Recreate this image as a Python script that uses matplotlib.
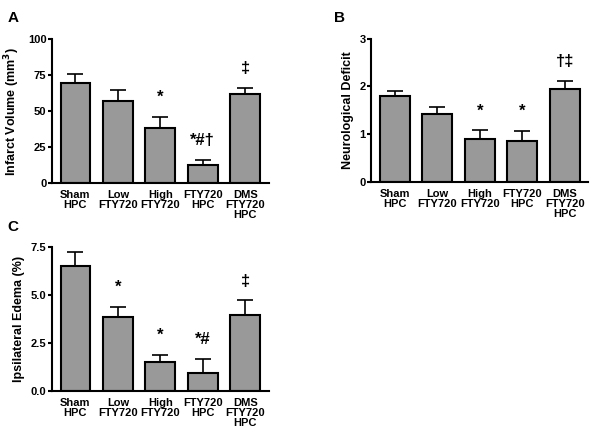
import matplotlib
matplotlib.use('Agg')
import matplotlib.pyplot as plt

plt.rcParams['font.family'] = ['Liberation Sans', 'DejaVu Sans']
plt.rcParams['font.weight'] = 'bold'

groups = ['Sham\nHPC', 'Low\nFTY720', 'High\nFTY720', 'FTY720\nHPC', 'DMS\nFTY720\nHPC']

infarct = [70, 57, 38.5, 13, 62]
infarct_err = [6, 8, 7.5, 3.5, 4.5]
infarct_marks = ['', '', '*', '*#†', '‡']

neuro = [1.8, 1.43, 0.9, 0.86, 1.95]
neuro_err = [0.1, 0.14, 0.18, 0.21, 0.17]
neuro_marks = ['', '', '*', '*', '†‡']

edema = [6.5, 3.83, 1.47, 0.93, 3.95]
edema_err = [0.7, 0.55, 0.38, 0.72, 0.75]
edema_marks = ['', '*', '*', '*#', '‡']

fig = plt.figure(figsize=(6, 4.41), dpi=100)


def panel(rect, vals, errs, marks, ylabel, yticks, ylabels, ymax, letter, lpos):
    ax = fig.add_axes(rect)
    x = range(len(vals))
    ax.bar(x, vals, width=0.7, color='#999999', edgecolor='black', linewidth=1.5,
           zorder=2)
    ax.errorbar(x, vals, yerr=[[0] * len(errs), errs], fmt='none', ecolor='black',
                elinewidth=1.2, capsize=5.5, capthick=1.2, zorder=1)
    for i, m in enumerate(marks):
        if m:
            ax.annotate(m, (i, vals[i] + errs[i]), xytext=(0, 14),
                        textcoords='offset points', ha='center', va='center',
                        fontsize=12, fontweight='bold')
    ax.set_xlim(-0.55, 4.55)
    ax.set_ylim(0, ymax)
    ax.set_yticks(yticks)
    ax.set_yticklabels(ylabels)
    ax.set_xticks(list(x))
    ax.set_xticklabels(groups, fontsize=8, fontweight='bold', linespacing=1.0)
    ax.tick_params(axis='x', length=0, pad=5)
    ax.tick_params(axis='y', length=3, width=1.5, labelsize=8, pad=1)
    ax.spines['top'].set_visible(False)
    ax.spines['right'].set_visible(False)
    ax.spines['left'].set_linewidth(1.5)
    ax.spines['bottom'].set_linewidth(1.5)
    ax.set_ylabel(ylabel, fontsize=9, fontweight='bold', labelpad=4)
    fig.text(lpos[0], lpos[1], letter, fontsize=11, fontweight='bold', va='top')
    return ax


panel([0.0867, 0.584, 0.361, 0.327], infarct, infarct_err, infarct_marks,
      'Infarct Volume (mm$^\\mathbf{3}$)', [0, 25, 50, 75, 100],
      ['0', '25', '50', '75', '100'], 100, 'A', (0.013, 0.975))
panel([0.619, 0.588, 0.361, 0.324], neuro, neuro_err, neuro_marks,
      'Neurological Deficit', [0, 1, 2, 3], ['0', '1', '2', '3'], 3, 'B',
      (0.557, 0.975))
panel([0.0867, 0.114, 0.361, 0.3266], edema, edema_err, edema_marks,
      'Ipsilateral Edema (%)', [0, 2.5, 5.0, 7.5], ['0.0', '2.5', '5.0', '7.5'],
      7.5, 'C', (0.013, 0.502))

fig.savefig('out.png', dpi=100)
